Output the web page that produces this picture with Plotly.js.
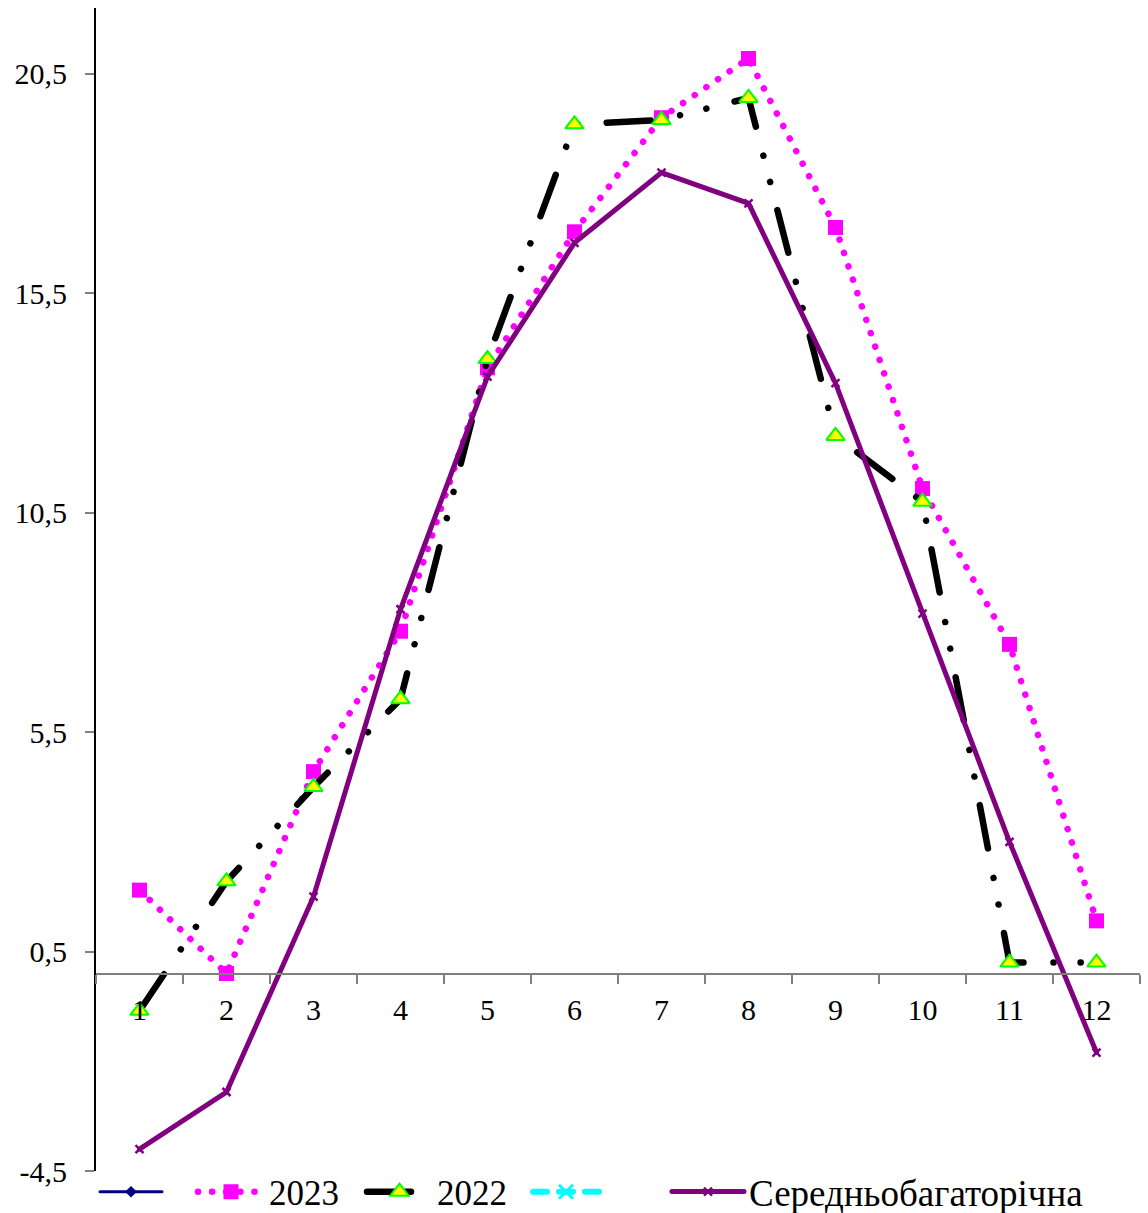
<!DOCTYPE html>
<html><head><meta charset="utf-8">
<script src="https://cdn.plot.ly/plotly-3.0.1.min.js"></script>
<style>
html,body{margin:0;padding:0;background:#fff;}
#chart{width:1148px;height:1213px;}
path.js-line{stroke-linecap:round;}
</style></head>
<body><div id="chart"></div>
<script>
const months = ['1','2','3','4','5','6','7','8','9','10','11','12'];
const y2023 = [1.9, 0.0, 4.6, 7.8, 13.8, 16.9, 19.5, 20.85, 17.0, 11.05, 7.5, 1.2];
const y2022 = [-0.85, 2.1, 4.25, 6.25, 14.0, 19.35, 19.45, 19.95, 12.25, 10.75, 0.25, 0.25];
const yMean = [-4.0, -2.7, 1.75, 8.3, 13.6, 16.65, 18.25, 17.55, 13.45, 8.2, 3.0, -1.8];
const names = ['', '2023', '2022', '', 'Середньобагаторічна'];
const yTickVals = [-4.5, 0.5, 5.5, 10.5, 15.5, 20.5];
const yTickText = ['-4,5', '0,5', '5,5', '10,5', '15,5', '20,5'];

const traces = [
  {x: [null], y: [null], name: names[0], legend: 'legend', type: 'scatter', mode: 'lines+markers',
   line: {color: '#000080', width: 3}, marker: {symbol: 'diamond', size: 9, color: '#000080'}},
  {x: months, y: y2023, name: names[1], legend: 'legend2', type: 'scatter', mode: 'lines+markers',
   line: {color: '#FF00FF', width: 6.5, dash: '0.1px,14px'},
   marker: {symbol: 'square', size: 15, color: '#FF00FF'}},
  {x: months, y: y2022, name: names[2], legend: 'legend3', type: 'scatter', mode: 'lines+markers',
   line: {color: '#000000', width: 6.5, dash: '44px,30px,0.1px,27px,0.1px,29px'},
   marker: {symbol: 'triangle-up', size: 16, color: '#FFFF00', line: {color: '#00FF00', width: 2}}},
  {x: [null], y: [null], name: names[3], legend: 'legend4', type: 'scatter', mode: 'lines+markers',
   line: {color: '#00FFFF', width: 6, dash: '14px,12px'}, marker: {symbol: 'x-thin', size: 14, color: '#00FFFF', line: {color: '#00FFFF', width: 3}}},
  {x: months, y: yMean, name: names[4], legend: 'legend5', type: 'scatter', mode: 'lines+markers',
   line: {color: '#800080', width: 5},
   marker: {symbol: 'x-thin', size: 8, color: '#800080', line: {color: '#800080', width: 2.5}}}
];

const px = v => (v - 96) / 1044;
const legY = (1171 - 1192) / 1163;
const legBase = {orientation: 'h', xanchor: 'left', y: legY, yanchor: 'middle',
                 font: {size: 35}, bgcolor: 'rgba(0,0,0,0)', borderwidth: 0};

const layout = {
  width: 1148, height: 1213,
  margin: {l: 96, r: 8, t: 8, b: 42, autoexpand: false},
  paper_bgcolor: '#fff', plot_bgcolor: '#fff',
  font: {family: 'Liberation Serif, Times New Roman, serif', size: 30, color: '#000'},
  showlegend: true,
  legend: Object.assign({}, legBase, {x: px(95), itemwidth: 62}),
  legend2: Object.assign({}, legBase, {x: px(193), itemwidth: 66}),
  legend3: Object.assign({}, legBase, {x: px(362), itemwidth: 65}),
  legend4: Object.assign({}, legBase, {x: px(528), itemwidth: 66}),
  legend5: Object.assign({}, legBase, {x: px(667), itemwidth: 72, font: {size: 37}}),
  xaxis: {type: 'category', range: [-0.5, 11.5], anchor: 'free', position: 4.5/26.5,
          showline: true, linecolor: '#808080', linewidth: 2,
          ticks: 'outside', tickson: 'boundaries', ticklen: 9, tickcolor: '#808080', tickwidth: 2,
          ticklabelstandoff: 9, showgrid: false, zeroline: false,
          tickfont: {size: 30}},
  yaxis: {range: [-4.5, 22], tickvals: yTickVals, ticktext: yTickText,
          showline: true, linecolor: '#000', linewidth: 2,
          ticks: 'outside', ticklen: 9, tickcolor: '#808080', tickwidth: 2,
          ticklabelstandoff: 12, showgrid: false, zeroline: false,
          tickfont: {size: 30}}
};

Plotly.newPlot('chart', traces, layout, {displayModeBar: false});
</script></body></html>
